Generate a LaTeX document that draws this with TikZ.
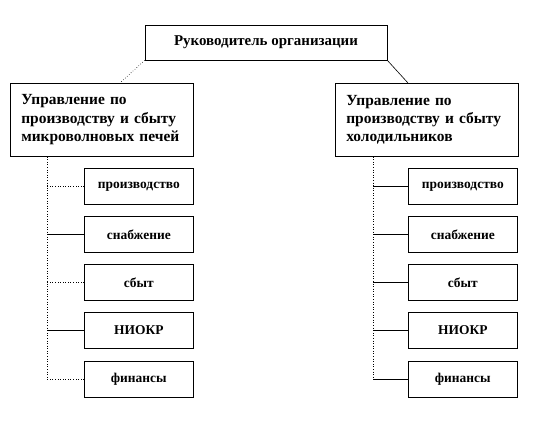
\documentclass[tikz,border=0pt]{standalone}
\usepackage{fontspec}
\setmainfont{Liberation Serif}
\usetikzlibrary{positioning}
\tikzset{
  boss/.style={draw, line width=0.6pt, minimum width=242bp, minimum height=35bp,
              inner sep=2bp, font=\bfseries\fontsize{15}{17}\selectfont},
  dept/.style={draw, line width=0.6pt, anchor=north west, minimum width=183bp,
              minimum height=73bp, text width=161bp, align=left, inner xsep=11bp,
              font=\bfseries\fontsize{15.5}{18.5}\selectfont},
  unit/.style={draw, line width=0.6pt, anchor=north west, minimum width=109bp,
              minimum height=36bp, inner sep=2bp, font=\bfseries\fontsize{13.5}{15}\selectfont},
  link/.style={line width=0.6pt},
  dlink/.style={line width=0.6pt, dotted},
}

\begin{document}
\begin{tikzpicture}[x=1bp, y=-1bp]
  \useasboundingbox (0,0) rectangle (540,420);
  % top level
  \node[boss] (ruk) at (266,42.5) {Руководитель организации};
  \node[dept] (upr1) at (10,83)
    {Управление по\\производству и сбыту\\микроволновых печей};
  \node[dept] (upr2) at (335,83)
    {Управление по\\производству и сбыту\\холодильников};
  \draw[dlink] (ruk.south west) -- (upr1.north west -| 120,0);
  \draw[link] (ruk.south east) -- (upr2.north west -| 408,0);

  % units of both departments
  \foreach \side/\x in {l/84, r/408} {
    \node[unit] (\side1) at (\x,168) {производство};
    \node[unit] (\side2) at (\x,216) {снабжение};
    \node[unit] (\side3) at (\x,264) {сбыт};
    \node[unit] (\side4) at (\x,312) {НИОКР};
    \node[unit] (\side5) at (\x,361) {финансы};
  }

  % left trunk (mixed lines)
  \coordinate (tl) at (47,0);
  \draw[dlink] (upr1.south -| tl) -- (l5.west -| tl);
  \draw[dlink] (l1.west) -- (l1.west -| tl);
  \draw[link]  (l2.west) -- (l2.west -| tl);
  \draw[dlink] (l3.west) -- (l3.west -| tl);
  \draw[link]  (l4.west) -- (l4.west -| tl);
  \draw[dlink] (l5.west) -- (l5.west -| tl);

  % right trunk
  \coordinate (tr) at (373,0);
  \draw[dlink] (upr2.south -| tr) -- (r5.west -| tr);
  \foreach \i in {1,...,5}
    \draw[link] (r\i.west) -- (r\i.west -| tr);
\end{tikzpicture}
\end{document}
